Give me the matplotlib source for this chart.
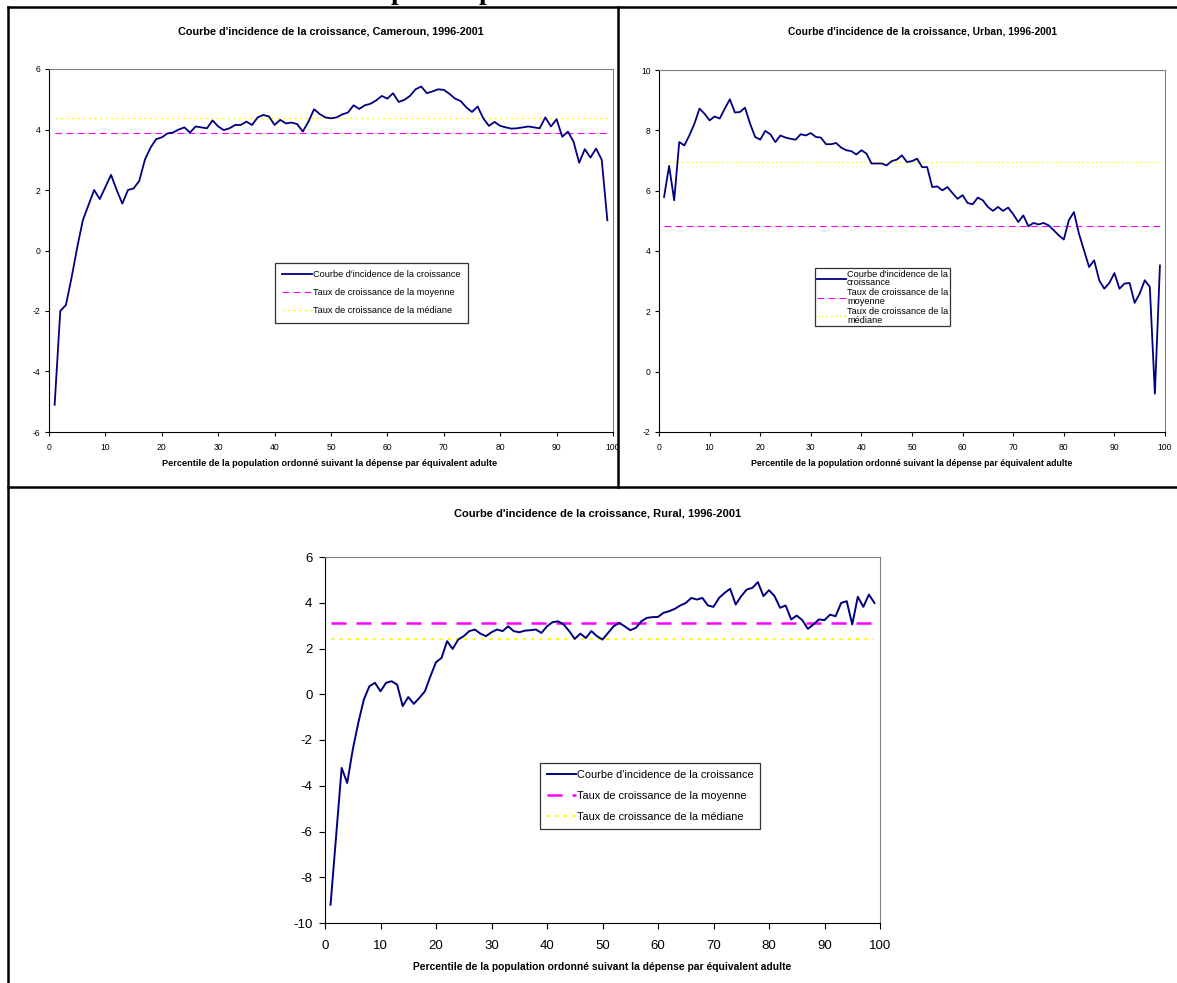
#courbes d'incidence de la croissance, Cameroun 1996-2001
import matplotlib
matplotlib.use('Agg')
import matplotlib.pyplot as plt
from matplotlib.lines import Line2D
import numpy as np

plt.rcParams['font.family'] = ['Liberation Sans', 'DejaVu Sans']
plt.rcParams['axes.unicode_minus'] = False

W, H = 1177, 983

pct = list(range(1, 100))

cic_cameroun = [-5.1, -2.0, -1.8, -0.9, 0.1, 1.0, 1.5, 2.0, 1.7, 2.1,
                2.5, 2.0, 1.55, 2.0, 2.05, 2.3, 3.0, 3.4, 3.68, 3.74,
                3.87, 3.9, 4.0, 4.07, 3.9, 4.1, 4.07, 4.04, 4.3, 4.1,
                3.98, 4.04, 4.15, 4.15, 4.26, 4.15, 4.4, 4.48, 4.43, 4.15,
                4.32, 4.2, 4.23, 4.18, 3.93, 4.26, 4.67, 4.51, 4.4, 4.37,
                4.4, 4.5, 4.56, 4.8, 4.68, 4.8, 4.85, 4.96, 5.11, 5.02,
                5.2, 4.91, 4.98, 5.11, 5.33, 5.42, 5.2, 5.26, 5.33, 5.31,
                5.18, 5.02, 4.94, 4.73, 4.58, 4.76, 4.37, 4.12, 4.25, 4.12,
                4.07, 4.03, 4.04, 4.07, 4.1, 4.07, 4.04, 4.4, 4.1, 4.34,
                3.76, 3.93, 3.6, 2.9, 3.35, 3.07, 3.37, 3.0, 1.0]
moy_cameroun = 3.88
med_cameroun = 4.38

cic_urban = [5.79, 6.82, 5.68, 7.61, 7.5, 7.83, 8.22, 8.72, 8.55, 8.33,
             8.46, 8.39, 8.72, 9.03, 8.59, 8.61, 8.75, 8.22, 7.78, 7.69,
             7.98, 7.87, 7.61, 7.83, 7.76, 7.72, 7.69, 7.87, 7.83, 7.91,
             7.78, 7.76, 7.54, 7.54, 7.58, 7.43, 7.34, 7.31, 7.2, 7.34,
             7.23, 6.9, 6.9, 6.9, 6.84, 6.98, 7.03, 7.17, 6.95, 6.98,
             7.06, 6.78, 6.78, 6.12, 6.14, 6.01, 6.12, 5.92, 5.73, 5.85,
             5.59, 5.55, 5.77, 5.68, 5.46, 5.33, 5.46, 5.33, 5.44, 5.22,
             4.96, 5.18, 4.82, 4.93, 4.88, 4.93, 4.85, 4.69, 4.52, 4.38,
             5.02, 5.29, 4.57, 4.02, 3.47, 3.69, 3.03, 2.75, 2.94, 3.27,
             2.75, 2.92, 2.94, 2.28, 2.59, 3.03, 2.81, -0.73, 3.52]
moy_urban = 4.83
med_urban = 6.95

cic_rural = [-9.2, -6.21, -3.22, -3.88, -2.42, -1.25, -0.23, 0.35, 0.5, 0.13,
             0.5, 0.57, 0.42, -0.52, -0.12, -0.42, -0.16, 0.13, 0.79, 1.4,
             1.59, 2.32, 1.98, 2.39, 2.54, 2.76, 2.83, 2.65, 2.54, 2.71,
             2.83, 2.76, 2.97, 2.76, 2.71, 2.78, 2.8, 2.83, 2.68, 2.97,
             3.15, 3.19, 3.05, 2.76, 2.42, 2.65, 2.46, 2.76, 2.54, 2.39,
             2.68, 2.97, 3.12, 2.97, 2.8, 2.9, 3.19, 3.34, 3.37, 3.38,
             3.56, 3.63, 3.73, 3.88, 3.99, 4.21, 4.14, 4.21, 3.88, 3.82,
             4.21, 4.43, 4.61, 3.92, 4.29, 4.58, 4.65, 4.9, 4.29, 4.55,
             4.29, 3.78, 3.88, 3.27, 3.44, 3.24, 2.86, 3.05, 3.27, 3.24,
             3.48, 3.41, 3.99, 4.07, 3.05, 4.26, 3.82, 4.36, 3.99]
moy_rural = 3.1
med_rural = 2.4

lab_cic = "Courbe d'incidence de la croissance"
lab_moy = "Taux de croissance de la moyenne"
lab_med = "Taux de croissance de la médiane"
xlab = "Percentile de la population ordonné suivant la dépense par équivalent adulte"


def box(l, t, r, b):
    # pixels -> fractions de la figure
    return [l / W, 1 - b / H, (r - l) / W, (b - t) / H]


def panel(ax, y, moy, med, ylim, tick_fs, lw_moy, lw_med, lw_cic):
    x = np.array(pct)
    ax.plot(x, y, color='#000080', lw=lw_cic, label=lab_cic, zorder=3)
    ax.plot([1, 99], [moy, moy], color='#FF00FF', lw=lw_moy, ls=(0, (6, 4)), label=lab_moy)
    ax.plot([1, 99], [med, med], color='#FFFF00', lw=lw_med, ls=(0, (1.5, 2.5)), label=lab_med)
    ax.set_xlim(0, 100)
    ax.set_ylim(*ylim)
    ax.set_xticks(range(0, 101, 10))
    ax.set_yticks(range(ylim[0], ylim[1] + 1, 2))
    ax.tick_params(labelsize=tick_fs, direction='out', length=3, width=0.8)
    ax.tick_params(axis='x', pad=5)
    ax.tick_params(axis='y', pad=3)
    for s in ['top', 'right']:
        ax.spines[s].set_color('#808080')
        ax.spines[s].set_linewidth(0.8)
    for s in ['left', 'bottom']:
        ax.spines[s].set_color('black')
        ax.spines[s].set_linewidth(0.8)


fig = plt.figure(figsize=(W / 100, H / 100), dpi=100)

# Cameroun
ax1 = fig.add_axes(box(49, 69, 613, 432))
panel(ax1, cic_cameroun, moy_cameroun, med_cameroun, (-6, 6), 6.2, 0.8, 1.0, 1.3)
leg = ax1.legend(loc='upper left', bbox_to_anchor=(270 / W, 1 - 258 / H), bbox_transform=fig.transFigure,
                 fontsize=6.6, frameon=True, fancybox=False, edgecolor='black', handlelength=3.3,
                 labelspacing=1.0, borderpad=0.8, handletextpad=0.1)
leg.get_frame().set_linewidth(0.9)
fig.text(331 / W, 1 - 31 / H, "Courbe d'incidence de la croissance, Cameroun, 1996-2001",
         ha='center', va='center', fontsize=7.8, fontweight='bold')
fig.text(330 / W, 1 - 463 / H, xlab, ha='center', va='center', fontsize=6.6, fontweight='bold')

# Urban
ax2 = fig.add_axes(box(659, 70, 1165, 432))
panel(ax2, cic_urban, moy_urban, med_urban, (-2, 10), 6.2, 0.8, 0.8, 1.3)
leg = ax2.legend(handles=ax2.get_lines(),
                 labels=["Courbe d'incidence de la\ncroissance", "Taux de croissance de la\nmoyenne",
                         "Taux de croissance de la\nmédiane"],
                 loc='upper left', bbox_to_anchor=(815 / W, 1 - 268 / H), bbox_transform=fig.transFigure,
                 fontsize=6.6, frameon=True, fancybox=False, edgecolor='black', handlelength=3.2,
                 labelspacing=0.1, borderpad=0.2, borderaxespad=0, handletextpad=0.1)
for t in leg.get_texts():
    t.set_linespacing(0.95)
leg.get_frame().set_linewidth(0.9)
fig.text(923 / W, 1 - 31 / H, "Courbe d'incidence de la croissance, Urban, 1996-2001",
         ha='center', va='center', fontsize=7.4, fontweight='bold')
fig.text(912 / W, 1 - 463 / H, xlab, ha='center', va='center', fontsize=6.3, fontweight='bold')

# Rural
ax3 = fig.add_axes(box(325, 557, 880, 923))
panel(ax3, cic_rural, moy_rural, med_rural, (-10, 6), 9.5, 1.8, 1.5, 1.4)
ax3.tick_params(length=4)
ax3.tick_params(axis='x', pad=8)
ax3.tick_params(axis='y', pad=5)
leg = ax3.legend(loc='upper left', bbox_to_anchor=(535 / W, 1 - 758 / H), bbox_transform=fig.transFigure,
                 fontsize=7.9, frameon=True, fancybox=False, edgecolor='black', handlelength=2.6,
                 labelspacing=1.0, borderpad=0.6, handletextpad=0.1)
leg.get_frame().set_linewidth(0.9)
fig.text(598 / W, 1 - 513 / H, "Courbe d'incidence de la croissance, Rural, 1996-2001",
         ha='center', va='center', fontsize=8.0, fontweight='bold')
fig.text(602 / W, 1 - 967 / H, xlab, ha='center', va='center', fontsize=7.4, fontweight='bold')

# cadre du tableau
bord = dict(color='black', lw=1.8, transform=fig.transFigure)
fig.add_artist(Line2D([8 / W, 1], [1 - 7 / H, 1 - 7 / H], **bord))
fig.add_artist(Line2D([8 / W, 8 / W], [1 - 7 / H, 0], **bord))
fig.add_artist(Line2D([618 / W, 618 / W], [1 - 7 / H, 1 - 487 / H], **bord))
fig.add_artist(Line2D([8 / W, 1], [1 - 487 / H, 1 - 487 / H], **bord))

# bas du texte de la page precedente (coupe en haut)
for px in [398, 486]:
    fig.text(px / W, 1 + 1 / H, 'p', family='Liberation Serif', fontweight='bold', fontsize=20,
             ha='center', va='baseline')

fig.savefig('out.png', dpi=100)
